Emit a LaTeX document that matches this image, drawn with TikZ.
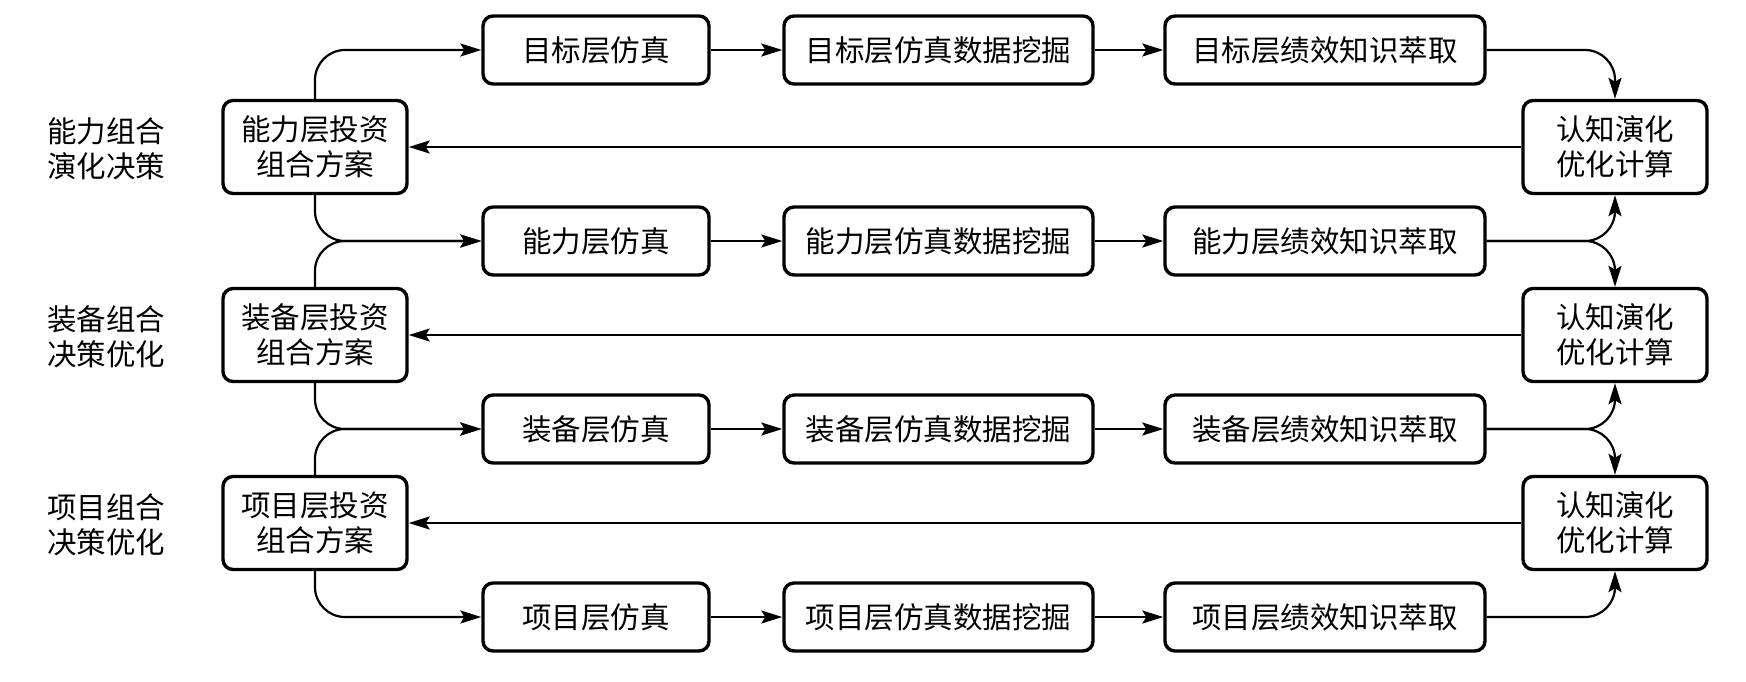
\documentclass[tikz,border=0pt]{standalone}
\usepackage{fontspec}
\newfontfamily\cjk{Noto Sans CJK SC}
\usetikzlibrary{arrows.meta}
\begin{document}
\begin{tikzpicture}[x=1pt,y=-1pt,
  every node/.style={font=\cjk\fontsize{29.5}{35}\selectfont},
  box/.style={draw,line width=3.4pt,rounded corners=10pt,align=center,inner sep=0pt,minimum height=68pt},
  sidebox/.style={draw,line width=3.4pt,rounded corners=10pt,align=center,inner sep=0pt,minimum width=184pt,minimum height=93pt},
  colA/.style={box,minimum width=226pt},
  colB/.style={box,minimum width=309pt},
  colC/.style={box,minimum width=320pt},
  lbl/.style={align=center,inner sep=0pt},
  arr/.style={line width=2.2pt,-{Stealth[length=21pt,width=13pt,inset=4pt]}},
  turnarr/.style={arr,rounded corners=30pt}]
\useasboundingbox (0,0) rectangle (1746,681);
% chain rows
\foreach \r/\y/\p in {1/50/目标,2/241/能力,3/429/装备,4/617/项目}{
  \node[colA] (A\r) at (596,\y) {\p 层仿真};
  \node[colB] (B\r) at (938.5,\y) {\p 层仿真数据挖掘};
  \node[colC] (C\r) at (1325,\y) {\p 层绩效知识萃取};
  \draw[arr] (A\r) -- (B\r);
  \draw[arr] (B\r) -- (C\r);
}
% side boxes
\foreach \r/\y/\p in {1/147/能力,2/335/装备,3/523/项目}{
  \node[sidebox] (L\r) at (315,\y) {\p 层投资\\组合方案};
  \node[sidebox] (R\r) at (1615,\y) {认知演化\\优化计算};
  \draw[arr] (R\r) -- (L\r);
}
\node[lbl] (T1) at (106,149) {能力组合\\演化决策};
\node[lbl] (T2) at (106,337) {装备组合\\决策优化};
\node[lbl] (T3) at (106,525) {项目组合\\决策优化};
% left branches
\draw[turnarr] (L1.north) |- (A1.west);
\draw[turnarr] (L1.south) |- (A2.west);
\draw[turnarr] (L2.north) |- (A2.west);
\draw[turnarr] (L2.south) |- (A3.west);
\draw[turnarr] (L3.north) |- (A3.west);
\draw[turnarr] (L3.south) |- (A4.west);
% right branches
\draw[turnarr] (C1.east) -| (R1.north);
\draw[turnarr] (C2.east) -| (R1.south);
\draw[turnarr] (C2.east) -| (R2.north);
\draw[turnarr] (C3.east) -| (R2.south);
\draw[turnarr] (C3.east) -| (R3.north);
\draw[turnarr] (C4.east) -| (R3.south);
\end{tikzpicture}
\end{document}
